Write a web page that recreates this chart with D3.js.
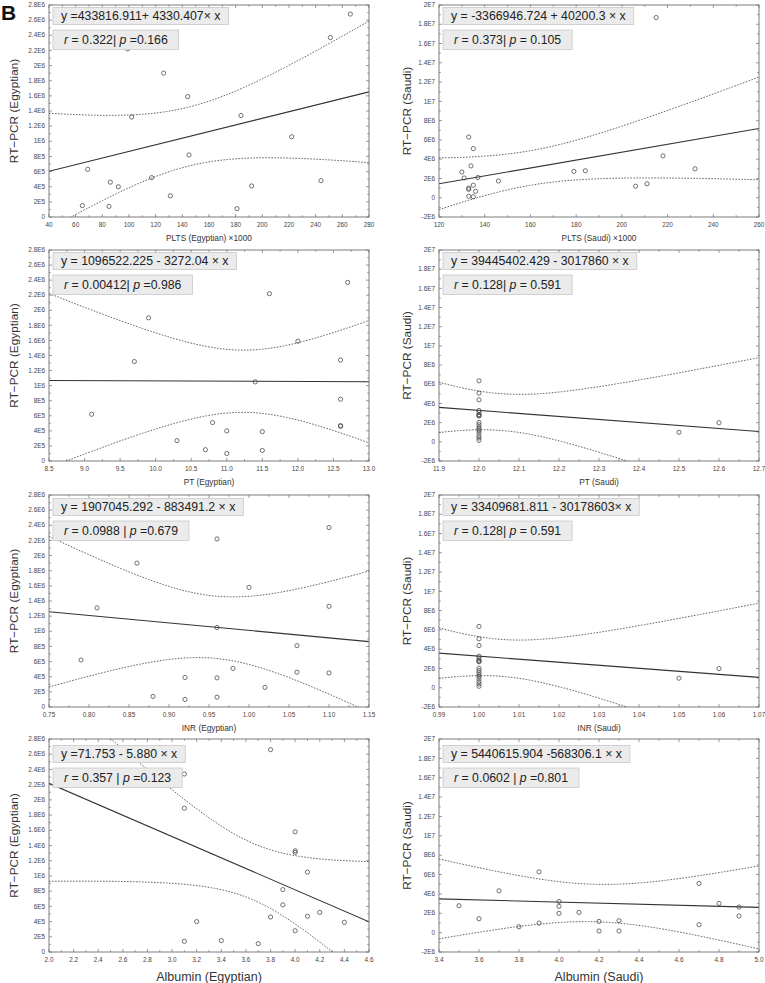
<!DOCTYPE html>
<html>
<head>
<meta charset="utf-8">
<script src="https://cdn.jsdelivr.net/npm/d3@7"></script>
<style>
  body { margin: 0; background: #fff; }
  text { font-family: "Liberation Sans", Arial, sans-serif; }
</style>
</head>
<body>
<svg id="chart" width="765" height="983"></svg>
<script>
// [x, RT-PCR] pairs (some sit under the text boxes)
const pltsEgy = [[65,1.5e5],[69,6.3e5],[85,1.4e5],[86,4.6e5],[92,4.0e5],[95,2.37e6],[99,2.22e6],[102,1.32e6],[117,5.2e5],[126,1.9e6],
  [131,2.8e5],[144,1.59e6],[145,8.2e5],[181,1.1e5],[184,1.34e6],[192,4.1e5],[222,1.06e6],[244,4.8e5],[251,2.37e6],[266,2.68e6]];
const pltsSaudi = [[130,2.67e6],[131,2.05e6],[133,6.3e6],[133,1.0e6],[133,8.7e5],[133,1.5e5],[134,3.3e6],[135,5.1e6],[135,1.3e6],[135,1.0e5],
  [136,6.6e5],[137,2.1e6],[146,1.74e6],[179,2.74e6],[184,2.8e6],[206,1.2e6],[211,1.45e6],[215,1.87e7],[218,4.35e6],[232,3.0e6]];
const ptEgy = [[9.1,6.2e5],[9.7,1.32e6],[9.9,1.9e6],[10.3,2.37e6],[10.3,2.7e5],[10.7,1.5e5],[10.7,2.68e6],[10.8,5.1e5],[11.0,4.0e5],[11.0,1.0e5],
  [11.4,1.05e6],[11.5,3.9e5],[11.5,1.4e5],[11.6,2.22e6],[12.0,1.59e6],[12.6,1.34e6],[12.6,8.2e5],[12.6,4.6e5],[12.6,4.7e5],[12.7,2.37e6]];
const ptSaudi = [[12.0,6.36e6],[12.0,5.08e6],[12.0,4.38e6],[12.0,3.27e6],[12.0,3.06e6],[12.0,2.85e6],[12.0,2.75e6],[12.0,2.69e6],[12.0,2.02e6],[12.0,1.78e6],
  [12.0,1.54e6],[12.0,1.33e6],[12.0,1.16e6],[12.0,9.2e5],[12.0,6.3e5],[12.0,4.0e5],[12.0,1.5e5],[12.0,1.87e7],[12.5,9.9e5],[12.6,1.99e6]];
const inrEgy = [[0.79,6.2e5],[0.81,1.31e6],[0.82,2.37e6],[0.86,1.9e6],[0.88,1.4e5],[0.90,2.68e6],[0.92,3.9e5],[0.92,1.0e5],[0.96,2.22e6],[0.96,1.05e6],
  [0.96,3.85e5],[0.96,1.3e5],[0.98,5.1e5],[1.00,1.58e6],[1.02,2.6e5],[1.06,8.1e5],[1.06,4.6e5],[1.10,2.37e6],[1.10,1.33e6],[1.10,4.5e5]];
const inrSaudi = [[1.00,6.36e6],[1.00,5.08e6],[1.00,4.38e6],[1.00,3.27e6],[1.00,3.06e6],[1.00,2.85e6],[1.00,2.75e6],[1.00,2.69e6],[1.00,2.02e6],[1.00,1.78e6],
  [1.00,1.54e6],[1.00,1.33e6],[1.00,1.16e6],[1.00,9.2e5],[1.00,6.3e5],[1.00,4.0e5],[1.00,1.5e5],[1.00,1.87e7],[1.05,9.9e5],[1.06,1.99e6]];
const albEgy = [[2.5,2.22e6],[2.9,2.37e6],[3.1,2.34e6],[3.1,1.89e6],[3.1,1.4e5],[3.2,4.0e5],[3.4,1.5e5],[3.7,1.1e5],[3.8,2.66e6],[3.8,4.6e5],
  [3.9,8.2e5],[3.9,6.2e5],[4.0,1.58e6],[4.0,1.33e6],[4.0,1.31e6],[4.0,2.8e5],[4.1,1.05e6],[4.1,4.7e5],[4.2,5.2e5],[4.4,3.9e5]];
const albSaudi = [[3.5,2.78e6],[3.6,1.44e6],[3.7,4.32e6],[3.8,6.1e5],[3.9,6.28e6],[3.9,9.9e5],[4.0,3.22e6],[4.0,2.71e6],[4.0,1.99e6],[4.1,2.09e6],
  [4.1,1.87e7],[4.2,1.16e6],[4.2,1.7e5],[4.3,1.23e6],[4.3,1.7e5],[4.7,5.08e6],[4.7,8.2e5],[4.8,3.02e6],[4.9,2.64e6],[4.9,1.72e6]];

const xTitles = ["PLTS (Egyptian) ×1000", "PLTS (Saudi) ×1000", "PT (Egyptian)", "PT (Saudi)",
  "INR (Egyptian)", "INR (Saudi)", "Albumin (Egyptian)", "Albumin (Saudi)"];
const yTitles = ["RT−PCR (Egyptian)", "RT−PCR (Saudi)"];
const equations = ["y =433816.911+ 4330.407× x", "y = -3366946.724 + 40200.3 × x",
  "y = 1096522.225 - 3272.04 × x", "y = 39445402.429 - 3017860 × x",
  "y = 1907045.292 - 883491.2 × x", "y = 33409681.811 - 30178603× x",
  "y =71.753 - 5.880 × x", "y = 5440615.904 -568306.1 × x"];
// text after r and after p, as printed
const stats = [[" = 0.322| ", " =0.166"], [" = 0.373| ", " = 0.105"],
  [" = 0.00412| ", " =0.986"], [" = 0.128| ", " = 0.591"],
  [" = 0.0988 | ", " =0.679"], [" = 0.128| ", " = 0.591"],
  [" = 0.357 | ", " =0.123"], [" = 0.0602 | ", " =0.801"]];

// x axis: [min, max, step, decimals]
const xAxes = [[40,280,20,0],[120,260,20,0],[8.5,13,0.5,1],[11.9,12.7,0.1,1],
  [0.75,1.15,0.05,2],[0.99,1.07,0.01,2],[2.0,4.6,0.2,1],[3.4,5.0,0.2,1]];
const yEgy = [0, 2.8e6, 2e5];
const ySaudi = [-2e6, 2e7, 2e6];

const T975 = {17: 2.110, 18: 2.101, 19: 2.093};

const panelData = [pltsEgy, pltsSaudi, ptEgy, ptSaudi, inrEgy, inrSaudi, albEgy, albSaudi];

const colX = [49, 439], plotW = 320;
const rowY = [[5, 217], [250, 461], [495, 707], [739, 952]];

const svg = d3.select("#chart");

svg.append("text").attr("x", 1).attr("y", 20)
  .style("font-size", "21px").style("font-weight", "bold").attr("fill", "#111").text("B");

function sci(v) {
  if (Math.abs(v) < 1e-9) return "0";
  const e = Math.floor(Math.log10(Math.abs(v)) + 1e-9);
  const m = +(v / Math.pow(10, e)).toFixed(1);
  return m + "E" + e;
}

function fit(pts) {
  const n = pts.length;
  const mx = d3.mean(pts, d => d[0]), my = d3.mean(pts, d => d[1]);
  let sxx = 0, sxy = 0, syy = 0;
  pts.forEach(([x, y]) => { sxx += (x - mx) ** 2; sxy += (x - mx) * (y - my); syy += (y - my) ** 2; });
  const b = sxy / sxx, a = my - b * mx;
  const s = Math.sqrt((syy - b * sxy) / (n - 2));
  return { a, b, mx, sxx, n, s, t: T975[n - 2] || 2.1 };
}

panelData.forEach((pts, i) => {
  const col = i % 2, row = Math.floor(i / 2);
  const x0 = colX[col], x1 = x0 + plotW;
  const [y0, y1] = rowY[row];
  const [xmin, xmax, xstep, xdec] = xAxes[i];
  const [ymin, ymax, ystep] = col === 0 ? yEgy : ySaudi;

  const x = d3.scaleLinear().domain([xmin, xmax]).range([x0, x1]);
  const y = d3.scaleLinear().domain([ymin, ymax]).range([y1, y0]);

  const g = svg.append("g");
  const clipId = "clip" + i;
  g.append("clipPath").attr("id", clipId).append("rect")
    .attr("x", x0).attr("y", y0).attr("width", x1 - x0).attr("height", y1 - y0);

  const xt = d3.range(xmin, xmax + xstep / 2, xstep).map(v => +v.toFixed(6));
  const yt = d3.range(ymin, ymax + ystep / 2, ystep).map(v => +v.toFixed(3));
  const xMinor = d3.range(xmin + xstep / 2, xmax, xstep);
  const yMinor = d3.range(ymin + ystep / 2, ymax, ystep);

  // ticks on all four sides, pointing in
  const tk = g.append("g").attr("stroke", "#707070").attr("stroke-width", 0.7);
  [[xt, 3], [xMinor, 1.8]].forEach(([vals, len]) => {
    vals.forEach(v => {
      tk.append("line").attr("x1", x(v)).attr("x2", x(v)).attr("y1", y1).attr("y2", y1 - len);
      tk.append("line").attr("x1", x(v)).attr("x2", x(v)).attr("y1", y0).attr("y2", y0 + len);
    });
  });
  [[yt, 3], [yMinor, 1.8]].forEach(([vals, len]) => {
    vals.forEach(v => {
      tk.append("line").attr("y1", y(v)).attr("y2", y(v)).attr("x1", x0).attr("x2", x0 + len);
      tk.append("line").attr("y1", y(v)).attr("y2", y(v)).attr("x1", x1).attr("x2", x1 - len);
    });
  });

  g.selectAll(".xl").data(xt).join("text")
    .attr("x", d => x(d)).attr("y", y1 + 9.5)
    .attr("text-anchor", "middle").style("font-size", "6.4px").attr("fill", "#444")
    .text(d => d.toFixed(xdec));
  g.selectAll(".yl").data(yt).join("text")
    .attr("x", x0 - 4).attr("y", d => y(d) + 2.2)
    .attr("text-anchor", "end").style("font-size", "6.4px").attr("fill", "#444")
    .text(d => sci(d));

  // axis titles
  const big = row === 3;
  g.append("text").attr("x", (x0 + x1) / 2).attr("y", big ? y1 + 29 : y1 + 24)
    .attr("text-anchor", "middle").style("font-size", big ? "12.5px" : "8.3px").attr("fill", "#333")
    .text(xTitles[i]);
  g.append("text")
    .attr("transform", `translate(${x0 - (col === 0 ? 35 : 32)},${(y0 + y1) / 2}) rotate(-90)`)
    .attr("text-anchor", "middle").attr("dy", "0.35em").style("font-size", "11.8px").attr("fill", "#333")
    .text(yTitles[col]);

  // fit and 95% confidence band
  const f = fit(pts);
  const xs = d3.range(0, 121).map(k => xmin + (xmax - xmin) * k / 120);
  const half = v => f.t * f.s * Math.sqrt(1 / f.n + (v - f.mx) ** 2 / f.sxx);
  const line = d3.line().x(d => x(d[0])).y(d => y(d[1]));
  const inner = g.append("g").attr("clip-path", `url(#${clipId})`);
  inner.append("path").attr("d", line(xs.map(v => [v, f.a + f.b * v + half(v)])))
    .attr("fill", "none").attr("stroke", "#555").attr("stroke-width", 0.9).attr("stroke-dasharray", "1.6,1.4");
  inner.append("path").attr("d", line(xs.map(v => [v, f.a + f.b * v - half(v)])))
    .attr("fill", "none").attr("stroke", "#555").attr("stroke-width", 0.9).attr("stroke-dasharray", "1.6,1.4");
  inner.append("path").attr("d", line([[xmin, f.a + f.b * xmin], [xmax, f.a + f.b * xmax]]))
    .attr("fill", "none").attr("stroke", "#333").attr("stroke-width", 1.1);

  inner.selectAll("circle").data(pts).join("circle")
    .attr("cx", d => x(d[0])).attr("cy", d => y(d[1])).attr("r", 2.1)
    .attr("fill", "none").attr("stroke", "#444").attr("stroke-width", 0.75);

  g.append("rect").attr("x", x0).attr("y", y0).attr("width", x1 - x0).attr("height", y1 - y0)
    .attr("fill", "none").attr("stroke", "#6e6e6e").attr("stroke-width", 0.9);

  // text boxes
  const off = row === 3 ? 4 : (row === 2 ? 1 : 0);
  const eq = g.append("text").attr("y", y0 + off + 15.2).style("font-size", "12.3px").attr("fill", "#222").text(equations[i]);
  const eqW = eq.node().getComputedTextLength();
  g.insert("rect", () => eq.node())
    .attr("x", x0 + 4).attr("y", y0 + off + 2.5).attr("width", eqW + 16).attr("height", 17)
    .attr("fill", "#ebebeb").attr("stroke", "#c9c9c9").attr("stroke-width", 0.8);
  eq.attr("x", x0 + 4 + 8);

  const st = g.append("text").attr("y", y0 + off + 39).style("font-size", "12.3px").attr("fill", "#222");
  st.append("tspan").style("font-style", "italic").text("r");
  st.append("tspan").text(stats[i][0]);
  st.append("tspan").style("font-style", "italic").text("p");
  st.append("tspan").text(stats[i][1]);
  const stW = st.node().getComputedTextLength();
  g.insert("rect", () => st.node())
    .attr("x", x0 + 4).attr("y", y0 + off + 25).attr("width", stW + 22).attr("height", 19.5)
    .attr("fill", "#ebebeb").attr("stroke", "#c9c9c9").attr("stroke-width", 0.8);
  st.attr("x", x0 + 4 + 11);
});
</script>
</body>
</html>
